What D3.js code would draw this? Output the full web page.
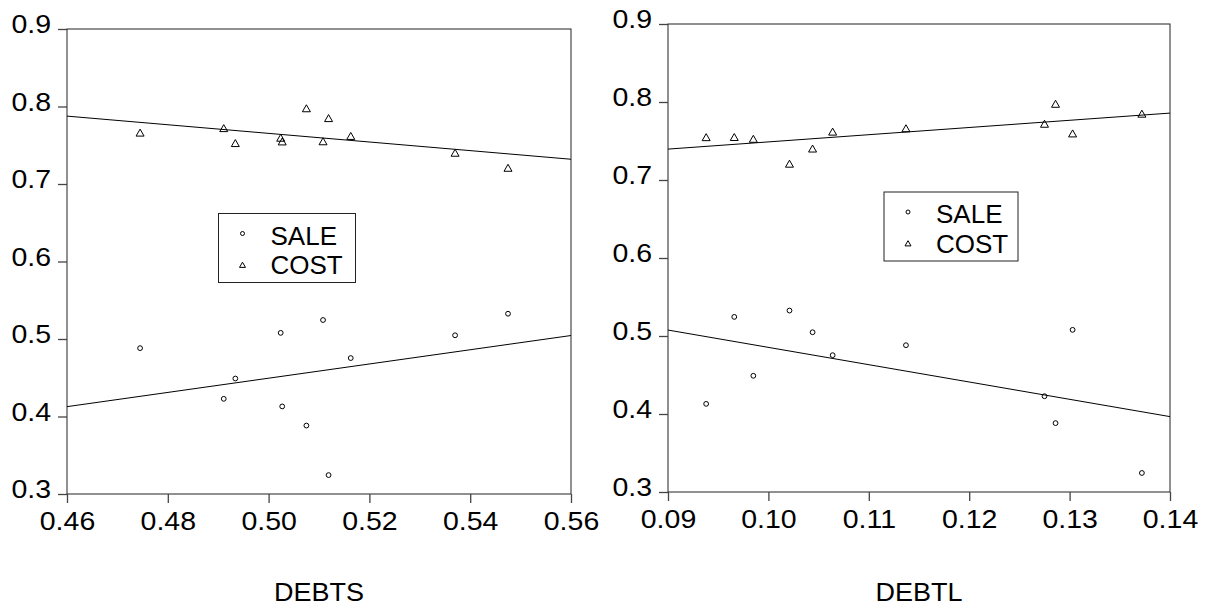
<!DOCTYPE html>
<html lang="en">
<head>
<meta charset="utf-8">
<title>SALE and COST against DEBTS / DEBTL</title>
<style>
  body { margin: 0; background: #fff; }
  svg text { font-family: "Liberation Sans", Arial, sans-serif; fill: #000; }
  .frame { fill: none; stroke: #222; stroke-width: 1; }
  .axis path, .axis line { stroke: #444; stroke-width: 1.3; }
  .fit { stroke: #000; stroke-width: 1; }
  .mk { fill: none; stroke: #000; stroke-width: 1; }
</style>
</head>
<body>
<div id="chart"></div>
<script src="https://cdn.jsdelivr.net/npm/d3@7"></script>
<script>

var debts = [0.4745, 0.4911, 0.4934, 0.5024, 0.5027, 0.5075, 0.5108, 0.5119, 0.5163, 0.5370, 0.5475];
var debtl = [0.1137, 0.1275, 0.0985, 0.1303, 0.0938, 0.1286, 0.0966, 0.1372, 0.1064, 0.1044, 0.1021];
var sale  = [0.4882, 0.4228, 0.4490, 0.5079, 0.4130, 0.3883, 0.5245, 0.3244, 0.4754, 0.5048, 0.5326];
var cost  = [0.7662, 0.7720, 0.7527, 0.7596, 0.7548, 0.7976, 0.7550, 0.7849, 0.7619, 0.7402, 0.7208];

var seriesNames = ["SALE", "COST"];
var yTicks = [0.3, 0.4, 0.5, 0.6, 0.7, 0.8, 0.9];
var xTicksS = [0.46, 0.48, 0.50, 0.52, 0.54, 0.56];
var xTicksL = [0.09, 0.10, 0.11, 0.12, 0.13, 0.14];

var W = 1208, H = 606;
var svg = d3.select( "#chart" ).append( "svg" )
    .attr( "width" , W )
    .attr( "height" , H );

// least squares fit y = a + b x
function ols( xs , ys )
{
    var mx = d3.mean( xs ), my = d3.mean( ys );
    var sxy = 0, sxx = 0;
    for( var i = 0 ; i < xs.length ; i++ )
    {
        sxy += ( xs[i] - mx ) * ( ys[i] - my );
        sxx += ( xs[i] - mx ) * ( xs[i] - mx );
    }
    var b = sxy / sxx;
    return { a : my - b * mx , b : b };
}

var triPath = "M0,-3.6L4,3.4L-4,3.4Z";

function panel( cfg )
{
    var x = d3.scaleLinear().domain( [ cfg.xTicks[0] , cfg.xTicks[cfg.xTicks.length-1] ] ).range( [ cfg.left , cfg.right ] );
    var y = d3.scaleLinear().domain( [ 0.3 , 0.9 ] ).range( [ cfg.bottom , cfg.top ] );
    var g = svg.append( "g" );

    g.append( "rect" ).attr( "class" , "frame" )
        .attr( "x" , cfg.left ).attr( "y" , cfg.top )
        .attr( "width" , cfg.right - cfg.left ).attr( "height" , cfg.bottom - cfg.top );

    var yAxis = g.append( "g" ).attr( "class" , "axis" )
        .attr( "transform" , "translate(" + cfg.left + ",0)" )
        .call( d3.axisLeft( y ).tickValues( yTicks ).tickFormat( d3.format( ".1f" ) ).tickSize( 9 ).tickSizeOuter( 0 ).tickPadding( 5 ) );
    yAxis.selectAll( "text" ).attr( "font-size" , 25 ).attr( "dy" , "0.15em" )
        .attr( "transform" , "scale(1.14,1)" );

    var xAxis = g.append( "g" ).attr( "class" , "axis" )
        .attr( "transform" , "translate(0," + cfg.bottom + ")" )
        .call( d3.axisBottom( x ).tickValues( cfg.xTicks ).tickFormat( d3.format( ".2f" ) ).tickSize( 9 ).tickSizeOuter( 0 ).tickPadding( 9 ) );
    xAxis.selectAll( "text" ).attr( "font-size" , 25 )
        .attr( "transform" , "scale(1.14,1)" );
    g.selectAll( ".axis .domain" ).remove();

    g.append( "text" )
        .attr( "transform" , "translate(" + ( ( cfg.left + cfg.right ) / 2 ) + ",601) scale(1.08,1)" )
        .attr( "text-anchor" , "middle" )
        .attr( "font-size" , 25 )
        .text( cfg.title );

    // fitted lines
    [ sale , cost ].forEach( function( ys ) {
        var f = ols( cfg.xs , ys );
        var d0 = x.domain()[0], d1 = x.domain()[1];
        g.append( "line" ).attr( "class" , "fit" )
            .attr( "x1" , x( d0 ) ).attr( "y1" , y( f.a + f.b * d0 ) )
            .attr( "x2" , x( d1 ) ).attr( "y2" , y( f.a + f.b * d1 ) );
    } );

    g.selectAll( ".sale" )
        .data( d3.zip( cfg.xs , sale ) )
        .enter().append( "circle" ).attr( "class" , "mk" )
            .attr( "cx" , function( d ) { return x( d[0] ); } )
            .attr( "cy" , function( d ) { return y( d[1] ); } )
            .attr( "r" , 2.4 );

    g.selectAll( ".cost" )
        .data( d3.zip( cfg.xs , cost ) )
        .enter().append( "path" ).attr( "class" , "mk" )
            .attr( "d" , triPath )
            .attr( "transform" , function( d ) { return "translate(" + x( d[0] ) + "," + y( d[1] ) + ")"; } );

    // legend box
    var lg = g.append( "g" ).attr( "transform" , "translate(" + cfg.legend[0] + "," + cfg.legend[1] + ")" );
    lg.append( "rect" ).attr( "width" , cfg.legendW ).attr( "height" , 69 )
        .attr( "fill" , "#fff" ).attr( "stroke" , "#222" ).attr( "stroke-width" , 1 );
    lg.append( "circle" ).attr( "class" , "mk" ).attr( "cx" , 24 ).attr( "cy" , 20 ).attr( "r" , 2 );
    lg.append( "path" ).attr( "class" , "mk" ).attr( "d" , "M0,-2.8L3,2.4L-3,2.4Z" )
        .attr( "transform" , "translate(24,51.5)" );
    lg.selectAll( ".lbl" )
        .data( seriesNames )
        .enter().append( "text" )
            .attr( "x" , 52 )
            .attr( "y" , function( d , i ) { return 31 + i * 29.7; } )
            .attr( "font-size" , 26 )
            .text( function( d ) { return d; } );
}

panel( { xs : debts , xTicks : xTicksS , title : "DEBTS" ,
         left : 67 , right : 571 , top : 29 , bottom : 494 ,
         legend : [ 218.5 , 213.5 ] , legendW : 137 } );

panel( { xs : debtl , xTicks : xTicksL , title : "DEBTL" ,
         left : 668 , right : 1170 , top : 24 , bottom : 492 ,
         legend : [ 884 , 192 ] , legendW : 134 } );

</script>
</body>
</html>
